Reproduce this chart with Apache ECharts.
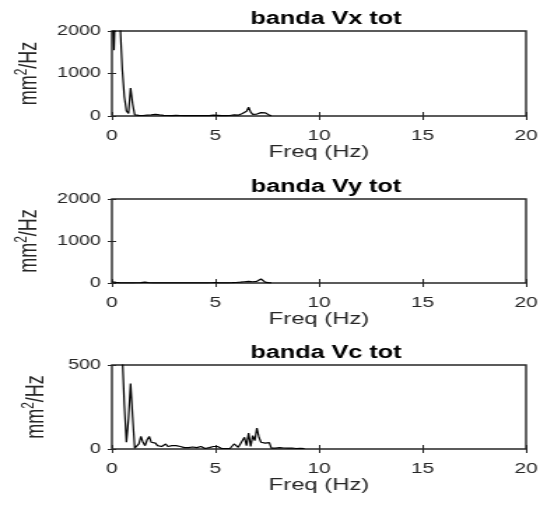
<!DOCTYPE html>
<html>
<head>
<meta charset="utf-8">
<script src="https://cdn.jsdelivr.net/npm/echarts@6/dist/echarts.min.js"></script>
<style>
  html, body { margin: 0; padding: 0; background: #fff; overflow: hidden; }
  /* The figure is laid out on a narrower canvas and widened to the page width. */
  #wrap { width: 554px; height: 505px; overflow: hidden; }
  #chart { width: 396px; height: 505px; transform: scaleX(1.399); transform-origin: 0 0; }
</style>
</head>
<body>
<div id="wrap"><div id="chart"></div></div>
<script>
// Spectra sampled every 0.1 Hz starting at 0 Hz
const FREQ_STEP = 0.1;

const titles = ['banda Vx tot', 'banda Vy tot', 'banda Vc tot'];
const yMax = [2000, 2000, 500];
const yInterval = [1000, 1000, 500];
const xTicks = [0, 5, 10, 15, 20];

const psdVx = [
  2600, 1550, 3200, 3600, 2100, 1100, 450, 120, 60, 660,
  280, 25, 10, 15, 8, 12, 10, 20, 12, 25,
  15, 40, 55, 25, 10, 15, 8, 12, 20, 10,
  8, 15, 10, 12, 8, 10, 15, 8, 12, 10,
  20, 12, 8, 10, 15, 8, 12, 10, 15, 20,
  30, 15, 10, 8, 12, 10, 15, 12, 20, 25,
  30, 20, 45, 60, 30, 110, 210, 90, 40, 60,
  45, 70, 80, 55, 75, 65, 20, 5
];

const psdVy = [
  30, 20, 15, 8, 5, 6, 4, 5, 6, 5,
  4, 5, 6, 8, 10, 12, 20, 12, 6, 5,
  4, 5, 4, 3, 4, 5, 4, 3, 4, 5,
  4, 3, 4, 3, 4, 5, 4, 3, 4, 3,
  4, 5, 4, 3, 4, 5, 4, 5, 6, 8,
  10, 6, 5, 4, 5, 6, 5, 6, 8, 10,
  12, 15, 20, 25, 30, 50, 40, 60, 30, 20,
  40, 80, 95, 50, 20, 10, 5, 3
];

const psdVc = [
  900, 1100, 1300, 1000, 800, 560, 260, 40, 180, 390,
  190, 5, 10, 30, 75, 40, 20, 55, 75, 40,
  30, 35, 20, 25, 15, 20, 30, 15, 25, 20,
  10, 20, 12, 15, 20, 8, 5, 8, 5, 12,
  15, 8, 18, 15, 5, 3, 5, 8, 5, 15,
  20, 15, 5, 3, 2, 3, 5, 3, 8, 30,
  20, 10, 30, 25, 70, 20, 95, 15, 80, 50,
  125, 70, 40, 38, 35, 42, 38, 5, 2, 5,
  2, 8, 3, 6, 2, 5, 3, 6, 2, 3,
  1, 4, 1, 3
];

const seriesData = [psdVx, psdVy, psdVc];

const FONT = '"Liberation Sans", Arial, Helvetica, sans-serif';
const INK = '#262626';
const gridTops = [31, 199, 365];
const gridH = [85, 84, 84];
const titleTops = [5, 173, 339];

const toPairs = (vals) => vals.map((v, i) => [+(i * FREQ_STEP).toFixed(1), v]);

const option = {
  animation: false,
  backgroundColor: '#fff',
  title: titles.map((t, i) => ({
    text: t,
    left: 228,
    top: titleTops[i],
    textAlign: 'center',
    textStyle: { fontFamily: FONT, fontSize: 18, fontWeight: 'bold', color: '#000' }
  })),
  grid: gridTops.map((top, i) => ({
    left: 80, right: 20, top: top, height: gridH[i],
    show: true, borderColor: INK, borderWidth: 1.4, backgroundColor: 'transparent'
  })),
  xAxis: [],
  yAxis: [],
  series: []
};

for (let i = 0; i < 3; i++) {
  // bottom axis with labels and name
  option.xAxis.push({
    type: 'value', gridIndex: i, min: 0, max: 20, interval: 5,
    name: 'Freq (Hz)', nameLocation: 'middle', nameGap: 28,
    nameTextStyle: { fontFamily: FONT, fontSize: 17, color: INK },
    axisLine: { show: false },
    axisTick: { show: true, inside: true, length: 4, lineStyle: { color: INK, width: 1 } },
    axisLabel: { fontFamily: FONT, fontSize: 15, color: INK, margin: 12,
      formatter: (v) => (xTicks.includes(v) ? String(v) : '') },
    splitLine: { show: false }
  });
  // top axis: tick marks only
  option.xAxis.push({
    type: 'value', gridIndex: i, min: 0, max: 20, interval: 5, position: 'top',
    axisLine: { show: false },
    axisTick: { show: true, inside: true, length: 4, lineStyle: { color: INK, width: 1 } },
    axisLabel: { show: false }, splitLine: { show: false }
  });
  option.yAxis.push({
    type: 'value', gridIndex: i, min: 0, max: yMax[i], interval: yInterval[i],
    name: '{n|mm}{s|2}{n|/Hz}', nameLocation: 'middle', nameGap: 45,
    nameTextStyle: {
      fontFamily: FONT, color: INK,
      rich: {
        n: { fontFamily: FONT, fontSize: 18, color: INK, lineHeight: 20, verticalAlign: 'bottom' },
        s: { fontFamily: FONT, fontSize: 12, color: INK, lineHeight: 20, verticalAlign: 'top' }
      }
    },
    axisLine: { show: false },
    axisTick: { show: true, inside: true, length: 3, lineStyle: { color: INK, width: 1 } },
    axisLabel: { fontFamily: FONT, fontSize: 14, color: INK, margin: 8,
      formatter: (v) => String(v) },
    splitLine: { show: false }
  });
  // right axis: tick marks only
  option.yAxis.push({
    type: 'value', gridIndex: i, min: 0, max: yMax[i], interval: yInterval[i], position: 'right',
    axisLine: { show: false },
    axisTick: { show: true, inside: true, length: 3, lineStyle: { color: INK, width: 1 } },
    axisLabel: { show: false }, splitLine: { show: false }
  });
  option.series.push({
    type: 'line', xAxisIndex: i * 2, yAxisIndex: i * 2,
    data: toPairs(seriesData[i]),
    showSymbol: false, clip: true,
    lineStyle: { color: '#000', width: 1.2 }
  });
}

const chart = echarts.init(document.getElementById('chart'), null, { width: 396, height: 505, renderer: 'canvas' });
chart.setOption(option);
</script>
</body>
</html>
